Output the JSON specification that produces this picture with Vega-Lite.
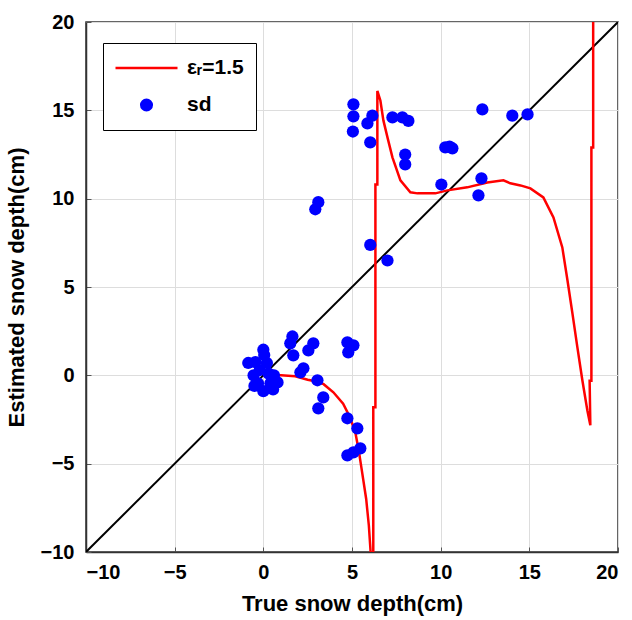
{
  "$schema": "https://vega.github.io/schema/vega-lite/v6.json",
  "width": 532,
  "height": 530,
  "autosize": {"type": "none"},
  "padding": {"left": 86, "top": 22, "right": 14, "bottom": 68},
  "background": "white",
  "config": {
    "font": "Liberation Sans",
    "view": {"stroke": "#333333", "strokeWidth": 1.5},
    "axis": {
      "labelFont": "Liberation Sans",
      "labelFontWeight": "bold",
      "labelFontSize": 20,
      "labelColor": "black",
      "titleFont": "Liberation Sans",
      "titleFontWeight": "bold",
      "titleFontSize": 22,
      "titleColor": "black",
      "domainColor": "#333333",
      "domainWidth": 1.5,
      "gridColor": "#dddddd",
      "gridWidth": 1,
      "tickColor": "#555555",
      "tickSize": -5,
      "labelPadding": 17
    }
  },
  "datasets": {
    "diag": [
      {"x": -10, "y": -10},
      {"x": 20, "y": 20}
    ],
    "curve": [
      {"i": 1, "x": 0, "y": 0},
      {"i": 2, "x": 1.0, "y": 0},
      {"i": 3, "x": 1.8, "y": -0.05},
      {"i": 4, "x": 2.5, "y": -0.25},
      {"i": 5, "x": 3.0, "y": -0.35},
      {"i": 6, "x": 3.4, "y": -0.5},
      {"i": 7, "x": 3.95, "y": -0.96},
      {"i": 8, "x": 4.5, "y": -1.6},
      {"i": 9, "x": 4.9, "y": -2.4},
      {"i": 10, "x": 5.2, "y": -3.3},
      {"i": 11, "x": 5.38, "y": -4.25},
      {"i": 12, "x": 5.58, "y": -5.55},
      {"i": 13, "x": 5.8, "y": -7.0},
      {"i": 14, "x": 5.95, "y": -8.5},
      {"i": 15, "x": 6.05, "y": -10},
      {"i": 16, "x": 6.1, "y": -11.5},
      {"i": 17, "x": 6.2, "y": -11.5},
      {"i": 18, "x": 6.2, "y": -1.8},
      {"i": 19, "x": 6.32, "y": -1.8},
      {"i": 20, "x": 6.32, "y": 10.8},
      {"i": 21, "x": 6.43, "y": 10.8},
      {"i": 22, "x": 6.43, "y": 16.1},
      {"i": 23, "x": 6.6, "y": 15.56},
      {"i": 24, "x": 6.77, "y": 14.43},
      {"i": 25, "x": 7.0, "y": 13.47},
      {"i": 26, "x": 7.28, "y": 12.34},
      {"i": 27, "x": 7.73, "y": 11.04},
      {"i": 28, "x": 8.29, "y": 10.36},
      {"i": 29, "x": 8.69, "y": 10.3},
      {"i": 30, "x": 9.7, "y": 10.3},
      {"i": 31, "x": 10.38, "y": 10.47},
      {"i": 32, "x": 11.5, "y": 10.64},
      {"i": 33, "x": 12.63, "y": 10.92},
      {"i": 34, "x": 13.54, "y": 11.04},
      {"i": 35, "x": 13.93, "y": 10.87},
      {"i": 36, "x": 14.5, "y": 10.75},
      {"i": 37, "x": 15.06, "y": 10.58},
      {"i": 38, "x": 15.79, "y": 10.07},
      {"i": 39, "x": 16.36, "y": 8.94},
      {"i": 40, "x": 16.86, "y": 7.24},
      {"i": 41, "x": 17.15, "y": 5.38},
      {"i": 42, "x": 17.43, "y": 3.51},
      {"i": 43, "x": 17.71, "y": 1.58},
      {"i": 44, "x": 17.99, "y": -0.28},
      {"i": 45, "x": 18.27, "y": -1.98},
      {"i": 46, "x": 18.44, "y": -2.83},
      {"i": 47, "x": 18.4, "y": -0.3},
      {"i": 48, "x": 18.5, "y": -0.3},
      {"i": 49, "x": 18.5, "y": 12.9},
      {"i": 50, "x": 18.6, "y": 12.9},
      {"i": 51, "x": 18.6, "y": 21}
    ],
    "sd": [
      {"x": 0.0, "y": 1.45},
      {"x": 0.05, "y": 1.15},
      {"x": -0.85, "y": 0.7},
      {"x": -0.45, "y": 0.75},
      {"x": 0.2, "y": 0.7},
      {"x": -0.55, "y": 0.0},
      {"x": -0.2, "y": 0.3},
      {"x": 0.3, "y": 0.1},
      {"x": 0.6, "y": 0.0},
      {"x": -0.3, "y": -0.45},
      {"x": 0.4, "y": -0.45},
      {"x": 0.8, "y": -0.4},
      {"x": 0.0, "y": -0.9},
      {"x": 0.55, "y": -0.8},
      {"x": -0.5, "y": -0.6},
      {"x": 1.64, "y": 2.2},
      {"x": 1.52, "y": 1.81},
      {"x": 1.69, "y": 1.13},
      {"x": 2.82, "y": 1.81},
      {"x": 2.54, "y": 1.41},
      {"x": 2.26, "y": 0.4},
      {"x": 2.09, "y": 0.17},
      {"x": 3.05, "y": -0.28},
      {"x": 3.38, "y": -1.25},
      {"x": 3.1, "y": -1.87},
      {"x": 4.74, "y": 1.87},
      {"x": 5.08, "y": 1.7},
      {"x": 4.79, "y": 1.3},
      {"x": 4.74, "y": -2.43},
      {"x": 5.3, "y": -3.0},
      {"x": 5.47, "y": -4.13},
      {"x": 4.74, "y": -4.53},
      {"x": 5.08, "y": -4.36},
      {"x": 2.93, "y": 9.4},
      {"x": 3.1, "y": 9.8},
      {"x": 6.03, "y": 7.38},
      {"x": 7.0, "y": 6.5},
      {"x": 5.08, "y": 15.34},
      {"x": 5.08, "y": 14.66},
      {"x": 5.05, "y": 13.8},
      {"x": 5.87, "y": 14.26},
      {"x": 6.15, "y": 14.7},
      {"x": 6.03, "y": 13.19},
      {"x": 7.28, "y": 14.6},
      {"x": 7.84, "y": 14.6},
      {"x": 8.18, "y": 14.4},
      {"x": 8.0, "y": 12.5},
      {"x": 8.0, "y": 11.94},
      {"x": 10.26, "y": 12.9},
      {"x": 10.5, "y": 12.95},
      {"x": 10.66, "y": 12.85},
      {"x": 10.04, "y": 10.8},
      {"x": 12.3, "y": 11.15},
      {"x": 12.13, "y": 10.19},
      {"x": 12.35, "y": 15.05},
      {"x": 14.04, "y": 14.7},
      {"x": 14.9, "y": 14.77}
    ]
  },
  "layer": [
    {
      "data": {"name": "diag"},
      "mark": {"type": "line", "color": "black", "strokeWidth": 2, "clip": true},
      "encoding": {
        "x": {"field": "x", "type": "quantitative", "scale": {"domain": [-10, 20], "nice": false}, "axis": {"values": [-10, -5, 0, 5, 10, 15, 20], "title": "True snow depth(cm)", "titlePadding": 11, "labelPadding": 15}},
        "y": {"field": "y", "type": "quantitative", "scale": {"domain": [-10, 20], "nice": false}, "axis": {"values": [-10, -5, 0, 5, 10, 15, 20], "title": "Estimated snow depth(cm)", "titlePadding": 12}}
      }
    },
    {
      "data": {"name": "curve"},
      "transform": [{"calculate": "'εᵣ=1.5'", "as": "series"}],
      "mark": {"type": "line", "strokeWidth": 2.5, "clip": true},
      "encoding": {
        "x": {"field": "x", "type": "quantitative"},
        "y": {"field": "y", "type": "quantitative"},
        "order": {"field": "i", "type": "quantitative"},
        "color": {
          "field": "series",
          "type": "nominal",
          "scale": {"domain": ["εᵣ=1.5", "sd"], "range": ["#ff0000", "#0000ff"]},
          "legend": {
            "title": null,
            "orient": "none",
            "legendX": 17,
            "legendY": 21,
            "direction": "vertical",
            "strokeColor": "black",
            "fillColor": "white",
            "padding": 12,
            "symbolSize": 3844,
            "symbolType": "stroke",
            "symbolStrokeWidth": 2.5,
            "symbolOffset": 21,
            "labelFont": "Liberation Sans",
            "labelFontWeight": "bold",
            "labelFontSize": 21,
            "labelColor": "black",
            "labelOffset": 30,
            "clipHeight": 26,
            "rowPadding": 11,
            "encode": {
              "symbols": {
                "update": {
                  "shape": {"signal": "datum.value === 'sd' ? 'circle' : 'stroke'"},
                  "size": {"signal": "datum.value === 'sd' ? 170 : 3844"},
                  "fill": {"signal": "datum.value === 'sd' ? '#0000ff' : 'transparent'"},
                  "stroke": {"signal": "datum.value === 'sd' ? '#0000ff' : '#ff0000'"},
                  "strokeWidth": {"signal": "datum.value === 'sd' ? 0 : 2.5"},
                  "opacity": {"value": 1}
                }
              }
            }
          }
        }
      }
    },
    {
      "data": {"name": "sd"},
      "transform": [{"calculate": "'sd'", "as": "series"}],
      "mark": {"type": "circle", "size": 150, "opacity": 1},
      "encoding": {
        "x": {"field": "x", "type": "quantitative"},
        "y": {"field": "y", "type": "quantitative"},
        "color": {"field": "series", "type": "nominal"}
      }
    }
  ]
}
